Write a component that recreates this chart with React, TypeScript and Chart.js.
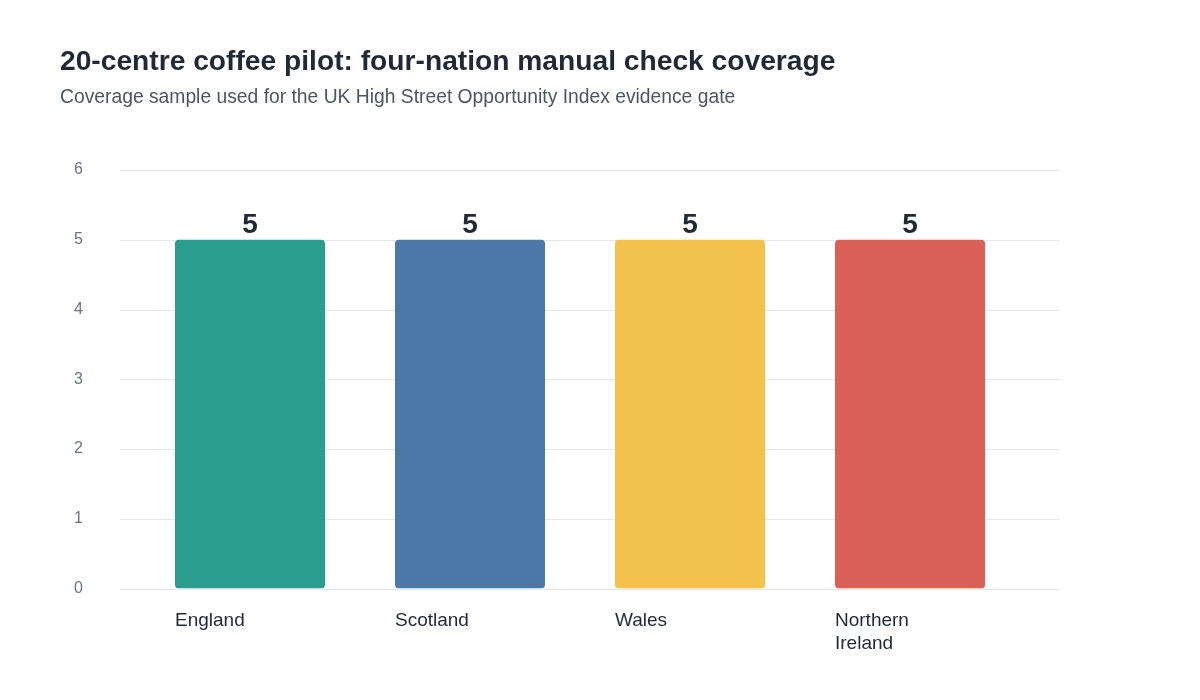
import React, { useEffect, useRef } from 'react';
import { Chart, registerables } from 'chart.js';

Chart.register(...registerables);

const nations = ['England', 'Scotland', 'Wales', ['Northern', 'Ireland']];
const centresChecked = [5, 5, 5, 5];
const barColours = ['#2a9d8f', '#4c78a8', '#f2c14e', '#da6058'];
const yTicks = [0, 1, 2, 3, 4, 5, 6];

const FONT = "'Liberation Sans', Arial, sans-serif";

// gridlines run a bit wider than the bar area in the original
const gridPlugin = {
  id: 'wideGrid',
  beforeDatasetsDraw(chart: any) {
    const { ctx, chartArea, scales } = chart;
    ctx.save();
    ctx.strokeStyle = '#e5e7eb';
    ctx.lineWidth = 1;
    yTicks.forEach((t) => {
      const y = Math.round(scales.y.getPixelForValue(t)) + 0.5;
      ctx.beginPath();
      ctx.moveTo(chartArea.left - 20, y);
      ctx.lineTo(chartArea.right + 40, y);
      ctx.stroke();
    });
    ctx.restore();
  },
};

const valueLabels = {
  id: 'valueLabels',
  afterDatasetsDraw(chart: any) {
    const { ctx } = chart;
    const meta = chart.getDatasetMeta(0);
    ctx.save();
    ctx.font = `bold 28px ${FONT}`;
    ctx.fillStyle = '#1f2937';
    ctx.textAlign = 'center';
    ctx.textBaseline = 'alphabetic';
    meta.data.forEach((bar: any, i: number) => {
      ctx.fillText(String(centresChecked[i]), bar.x, bar.y - 7);
    });
    ctx.restore();
  },
};

export default function App() {
  const canvasRef = useRef<HTMLCanvasElement | null>(null);
  const chartRef = useRef<Chart | null>(null);

  useEffect(() => {
    document.body.style.margin = '0';
    if (chartRef.current) chartRef.current.destroy();
    if (!canvasRef.current) return;

    chartRef.current = new Chart(canvasRef.current, {
      type: 'bar',
      data: {
        labels: nations as any,
        datasets: [
          {
            label: 'Centres checked',
            data: centresChecked,
            backgroundColor: barColours,
            borderRadius: 4,
            borderSkipped: false,
            barPercentage: 0.682,
            categoryPercentage: 1,
          },
        ],
      },
      options: {
        animation: false,
        responsive: true,
        maintainAspectRatio: false,
        layout: { padding: { left: 60, right: 180, top: 30, bottom: 32 } },
        plugins: {
          legend: { display: false },
          tooltip: { enabled: false },
          title: {
            display: true,
            text: '20-centre coffee pilot: four-nation manual check coverage',
            align: 'start',
            color: '#1f2937',
            font: { family: FONT, size: 28.2, weight: 'bold' },
            padding: { top: 15, bottom: 7 },
          },
          subtitle: {
            display: true,
            text: 'Coverage sample used for the UK High Street Opportunity Index evidence gate',
            align: 'start',
            color: '#4b5563',
            font: { family: FONT, size: 19.3 },
            padding: { top: 0, bottom: 61 },
          },
        },
        scales: {
          x: {
            grid: { display: false },
            border: { display: false },
            ticks: {
              align: 'start',
              labelOffset: -75,
              padding: 12,
              color: '#1f2937',
              font: { family: FONT, size: 19, lineHeight: 1.25 },
              maxRotation: 0,
            },
          },
          y: {
            min: 0,
            max: 6,
            grid: { display: false },
            border: { display: false },
            afterFit(scale: any) {
              scale.width = 80;
            },
            ticks: {
              stepSize: 1,
              padding: 49,
              color: '#6b7280',
              font: { family: FONT, size: 16 },
            },
          },
        },
      },
      plugins: [gridPlugin, valueLabels],
    });

    return () => {
      if (chartRef.current) {
        chartRef.current.destroy();
        chartRef.current = null;
      }
    };
  }, []);

  return (
    <div style={{ width: '1200px', height: '700px', background: '#ffffff' }}>
      <canvas ref={canvasRef} />
    </div>
  );
}
